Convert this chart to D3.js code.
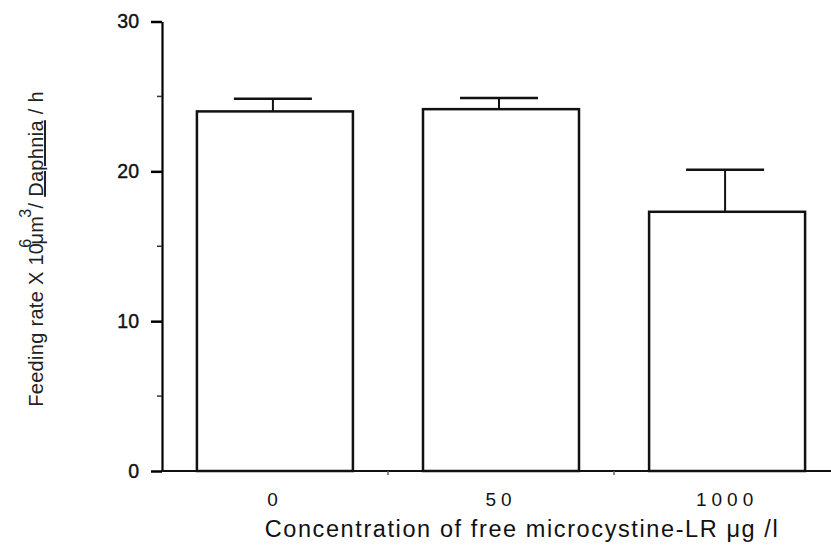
<!DOCTYPE html>
<html>
<head>
<meta charset="utf-8">
<script src="https://cdn.jsdelivr.net/npm/d3@7"></script>
<style>
  body { margin: 0; background: #fff; }
  svg { font-family: "Liberation Sans", Arial, Helvetica, sans-serif; }
</style>
</head>
<body>
<svg id="chart" width="831" height="550"></svg>
<script>
const concentrations = ["0", "50", "1000"]
const feedingRate = [24.0, 24.15, 17.3]
const errorUp = [0.85, 0.75, 2.8]
const yTicks = [0, 10, 20, 30]
const yMinorTicks = [5, 15, 25]

const svg = d3.select("#chart")

const y = d3.scaleLinear().domain([0, 30]).range([471, 21.5])
const x = d3.scaleBand().domain(concentrations).range([163, 839]).paddingInner(0.31).paddingOuter(0.15)

const rows = concentrations.map((c, i) => ({c, v: feedingRate[i], e: errorUp[i]}))

// y axis, ticks sit on the left
const yAxis = svg.append("g").attr("transform", "translate(162,0)")
  .call(d3.axisLeft(y).tickValues(yTicks).tickSize(11).tickPadding(12).tickSizeOuter(0))
yAxis.select(".domain").attr("stroke-width", 2.2)
yAxis.selectAll(".tick line").attr("stroke-width", 2.5)
yAxis.selectAll("text").attr("font-size", 19.5).attr("fill", "#111")
  .attr("stroke", "#111").attr("stroke-width", 0.4)

svg.append("g").selectAll("line")
  .data(yMinorTicks)
  .enter().append("line")
    .attr("x1", 157).attr("x2", 162)
    .attr("y1", d => y(d)).attr("y2", d => y(d))
    .attr("stroke", "#333").attr("stroke-width", 1.5)

// x axis line runs off the right edge
svg.append("line")
  .attr("x1", 161).attr("x2", 831)
  .attr("y1", y(0)).attr("y2", y(0))
  .attr("stroke", "#111").attr("stroke-width", 2)

const xAxis = svg.append("g").attr("transform", `translate(0,${y(0)})`)
  .call(d3.axisBottom(x).tickSize(0).tickPadding(22))
xAxis.select(".domain").remove()
xAxis.selectAll("text").attr("font-size", 19).attr("letter-spacing", 5).attr("fill", "#111")

// small marks between the groups
const mids = d3.pairs(concentrations).map(([a, b]) => (x(a) + x(b) + x.bandwidth()) / 2)
svg.append("g").selectAll("line")
  .data(mids)
  .enter().append("line")
    .attr("x1", d => d).attr("x2", d => d)
    .attr("y1", y(0)).attr("y2", y(0) + 4)
    .attr("stroke", "#666").attr("stroke-width", 1.5)

// error bars (upper only), drawn before bars so the bar top covers the stem foot
const capW = x.bandwidth() / 2
const err = svg.append("g").selectAll("g")
  .data(rows)
  .enter().append("g")
err.append("line")
  .attr("x1", d => x(d.c) + x.bandwidth() / 2 - 2).attr("x2", d => x(d.c) + x.bandwidth() / 2 - 2)
  .attr("y1", d => y(d.v)).attr("y2", d => y(d.v + d.e))
  .attr("stroke", "#111").attr("stroke-width", 2)
err.append("line")
  .attr("x1", d => x(d.c) + x.bandwidth() / 2 - 2 - capW / 2)
  .attr("x2", d => x(d.c) + x.bandwidth() / 2 - 2 + capW / 2)
  .attr("y1", d => y(d.v + d.e)).attr("y2", d => y(d.v + d.e))
  .attr("stroke", "#111").attr("stroke-width", 2.5)

svg.append("g").selectAll("rect")
  .data(rows)
  .enter().append("rect")
    .attr("x", d => x(d.c))
    .attr("y", d => y(d.v))
    .attr("width", x.bandwidth())
    .attr("height", d => y(0) - y(d.v))
    .attr("fill", "#fff")
    .attr("stroke", "#111")
    .attr("stroke-width", 2.5)

// axis titles
const yt = svg.append("text")
  .attr("transform", "translate(43,249) rotate(-90)")
  .attr("text-anchor", "middle")
  .attr("font-size", 20)
  .attr("letter-spacing", 0.3)
  .attr("fill", "#222")
yt.append("tspan").text("Feeding rate X 10")
yt.append("tspan").attr("font-size", 16).attr("dy", -12).attr("dx", -5).text("6")
yt.append("tspan").attr("dy", 12).attr("dx", -6).text("μm")
yt.append("tspan").attr("font-size", 16).attr("dy", -12).attr("dx", -2).text("3")
yt.append("tspan").attr("dy", 12).text("/ ")
yt.append("tspan").attr("text-decoration", "underline").text("Daphnia")
yt.append("tspan").text(" / h")

svg.append("text")
  .attr("x", 522).attr("y", 537)
  .attr("text-anchor", "middle")
  .attr("font-size", 23.5)
  .attr("letter-spacing", 1.6)
  .attr("fill", "#111")
  .text("Concentration of free microcystine-LR  μg /l")
</script>
</body>
</html>
